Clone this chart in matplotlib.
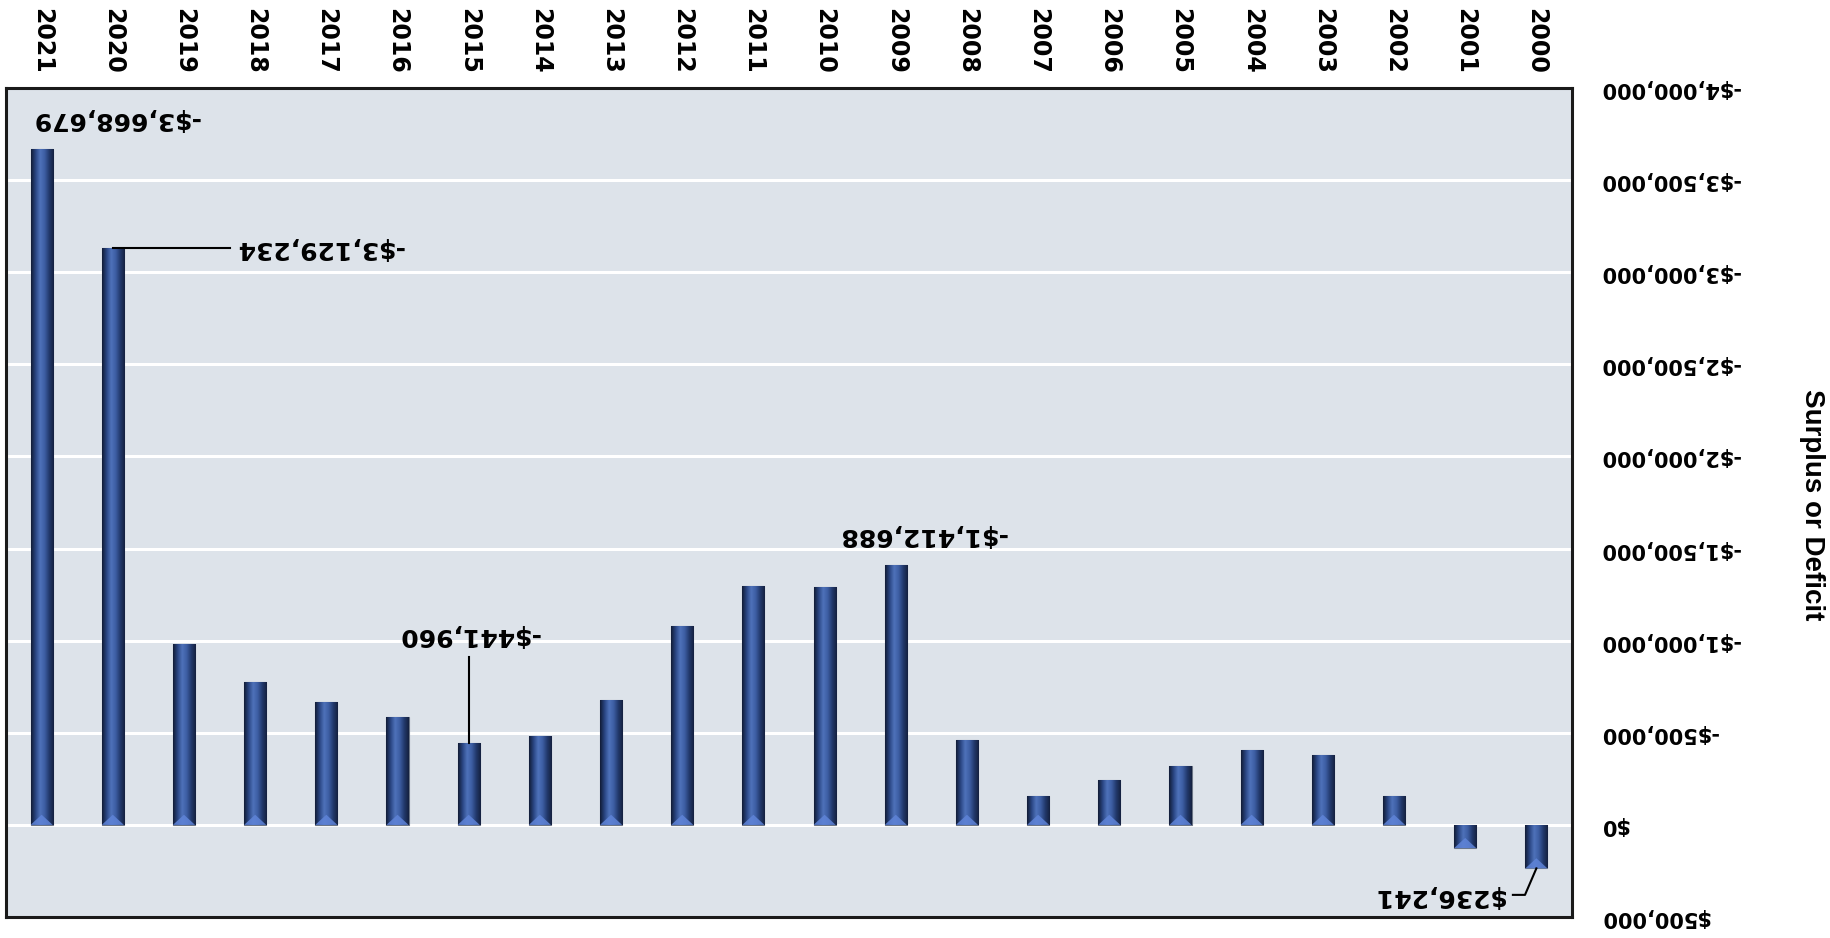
import numpy as np
import matplotlib
matplotlib.use('Agg')
import matplotlib.pyplot as plt
from matplotlib.colors import LinearSegmentedColormap
from matplotlib.patches import Polygon

# chart data (the whole chart is drawn turned upside down, like the reference)
years = [2000, 2001, 2002, 2003, 2004, 2005, 2006, 2007, 2008, 2009, 2010,
         2011, 2012, 2013, 2014, 2015, 2016, 2017, 2018, 2019, 2020, 2021]
surplus = [236241, 126000, -157000, -378000, -409000, -321000, -246000, -157000,
           -460000, -1412688, -1291000, -1297000, -1077000, -680000, -485000,
           -441960, -586000, -667000, -775000, -982000, -3129234, -3668679]
yticks = [500000, 0, -500000, -1000000, -1500000, -2000000, -2500000,
          -3000000, -3500000, -4000000]
labelled = {2021: '-$3,668,679', 2020: '-$3,129,234', 2015: '-$441,960',
            2009: '-$1,412,688', 2000: '$236,241'}
ylabel = 'Surplus or Deficit'

BG = '#dde3ea'
bar_cmap = LinearSegmentedColormap.from_list(
    'cyl', ['#111c36', '#2a4683', '#4e72ba', '#3d5ea3', '#22396c', '#14213f'])


def money(v):
    return f"-${abs(v):,.0f}" if v < 0 else f"${v:,.0f}"


fig = plt.figure(figsize=(18.3, 9.38), dpi=100)
ax = fig.add_axes([0.0033, 0.0224, 0.8557, 0.8838])
ax.set_facecolor(BG)

for v in yticks[1:-1]:
    ax.axhline(v, color='white', lw=2.2, zorder=1)

bars = ax.bar(years, surplus, width=0.31, color='#2d4a8a',
              edgecolor='#6b7585', linewidth=0.8, zorder=3)

grad = np.linspace(0, 1, 64).reshape(1, -1)
for b, v in zip(bars, surplus):
    x0, w = b.get_x(), b.get_width()
    im = ax.imshow(grad, cmap=bar_cmap, aspect='auto', zorder=3.5,
                   extent=[x0 + w, x0, min(0, v), max(0, v)],
                   interpolation='bilinear')
    im.set_clip_path(b)
    # light bevel triangle at the lower end of each bar (as seen on screen)
    yb = max(0, v)
    h = min(55000, abs(v) * 0.5)
    tri = Polygon([[x0, yb], [x0 + w, yb], [x0 + w / 2, yb - h]],
                  closed=True, facecolor='#5f84d8', edgecolor='none',
                  alpha=0.85, zorder=4)
    ax.add_patch(tri)

ax.set_xlim(max(years) + 0.5, min(years) - 0.5)
ax.set_ylim(yticks[0], yticks[-1])

# value labels (rotated 180, so ha refers to the turned box on screen)
txt = dict(rotation=180, fontsize=18, fontweight='bold', color='black',
           zorder=6)
d = dict(zip(years, surplus))
ax.text(2021.15, d[2021] - 165000, labelled[2021], ha='left', va='center', **txt)
ax.plot([2020, 2018.35], [d[2020], d[2020]], color='black', lw=1.5, zorder=5)
ax.text(2018.28, d[2020], labelled[2020], ha='left', va='center', **txt)
ax.plot([2015, 2015], [d[2015], -910000], color='black', lw=1.5, zorder=5)
ax.text(2015, -1030000, labelled[2015], ha='center', va='center', **txt)
ax.text(2008.62, -1573000, labelled[2009], ha='center', va='center', **txt)
ax.plot([2000, 2000.16, 2000.33], [d[2000], 380000, 380000],
        color='black', lw=1.5, zorder=5)
ax.text(2000.46, 384000, labelled[2000], ha='right', va='center', **txt)

# axes
ax.set_yticks(yticks)
ax.set_yticklabels([money(v) for v in yticks])
ax.yaxis.tick_right()
ax.tick_params(axis='y', length=0, pad=20)
for lab in ax.get_yticklabels():
    lab.set_rotation(180)
    lab.set_ha('left')
    lab.set_va('center')
    lab.set_fontsize(15)
    lab.set_fontweight('bold')

ax.set_xticks(years)
ax.set_xticklabels([str(y) for y in years])
ax.xaxis.tick_top()
ax.tick_params(axis='x', length=0, pad=10)
for lab in ax.get_xticklabels():
    lab.set_rotation(270)
    lab.set_ha('center')
    lab.set_va('bottom')
    lab.set_fontsize(17)
    lab.set_fontweight('bold')

for s in ax.spines.values():
    s.set_linewidth(2.2)
    s.set_color('#1a1a1a')

fig.text(0.9902, 0.4616, ylabel, rotation=270, ha='center', va='center',
         fontsize=20, fontweight='bold', family=['Liberation Sans', 'DejaVu Sans'])

fig.savefig('out.png', dpi=100, facecolor='white')
